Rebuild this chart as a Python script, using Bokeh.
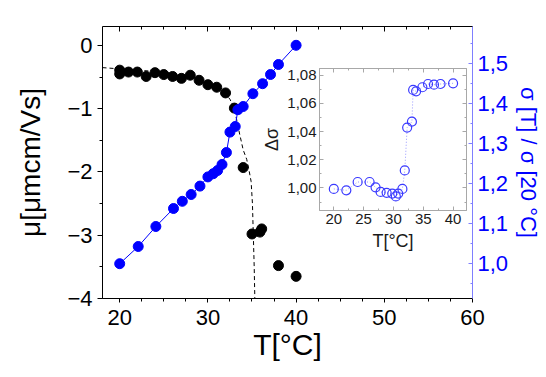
from bokeh.plotting import figure
from bokeh.models import LinearAxis, Range1d, CustomJSTickFormatter
from bokeh.layouts import column
from bokeh.embed import file_html
from bokeh.resources import INLINE

# ---- data ----
mu_T = [20, 20, 21, 22, 23, 24, 25, 26, 27, 28, 29, 30, 31, 32, 33, 34, 35, 35.9, 36.1, 38, 40]
mu_val = [-0.39, -0.45, -0.42, -0.42, -0.49, -0.43, -0.46, -0.49, -0.52, -0.47, -0.55,
          -0.62, -0.66, -0.75, -0.99, -1.93, -2.98, -2.95, -2.90, -3.48, -3.65]

fit_T = [18.05, 20, 22, 24, 26, 28, 30, 31, 32, 32.5, 33, 33.3, 33.6, 34.0, 34.4, 34.7,
         34.9, 35.05, 35.15, 35.25, 35.32]
fit_mu = [-0.35, -0.37, -0.39, -0.41, -0.44, -0.49, -0.58, -0.65, -0.76, -0.85, -1.0,
          -1.2, -1.4, -1.65, -1.8, -2.0, -2.15, -2.5, -3.0, -3.5, -4.0]

sig_T = [20, 22.1, 24.1, 26.1, 27.1, 28.1, 29.1, 30.0, 30.6, 31.1, 31.6, 32.1, 32.5,
         33.1, 33.4, 34.0, 35.1, 36.2, 37.1, 38.0, 40.0]
sig_val = [1.000, 1.043, 1.093, 1.138, 1.156, 1.173, 1.194, 1.217, 1.225, 1.233, 1.248,
           1.278, 1.329, 1.343, 1.385, 1.393, 1.425, 1.450, 1.473, 1.498, 1.546]

dsig_T = [20, 22.1, 24.0, 26.0, 27.0, 27.85, 28.86, 29.8, 30.4, 30.8, 31.5, 31.9, 32.3,
          33.1, 33.3, 33.8, 34.85, 35.8, 36.8, 37.9, 40.0]
dsig_val = [0.9993, 0.9983, 1.0042, 1.0042, 1.0004, 0.9972, 0.9965, 0.9960, 0.9940, 0.9960,
            0.9993, 1.0124, 1.0428, 1.0470, 1.0695, 1.0685, 1.0714, 1.0737, 1.0732, 1.0737, 1.0742]

FONT = "Liberation Sans"
BLUE = "#0000ff"
AXBLUE = "#7f7fff"

# ---- main figure ----
p = figure(width=544, height=371, x_range=Range1d(18.05, 60), y_range=Range1d(-4, 0.3),
           output_backend="svg", toolbar_location=None,
           min_border_left=102, min_border_right=71, min_border_top=26, min_border_bottom=73)
p.grid.visible = False
p.outline_line_color = None
p.extra_y_ranges = {"sig": Range1d(0.913, 1.593)}

xa = p.xaxis[0]
xa.axis_label = "T[°C]"
xa.axis_label_text_font = FONT
xa.axis_label_text_font_size = "30px"
xa.axis_label_text_font_style = "normal"
xa.axis_label_text_color = "black"
xa.axis_label_standoff = 0
xa.major_label_text_font = FONT
xa.major_label_text_font_size = "22px"
xa.major_label_text_color = "black"
xa.major_label_standoff = 7
xa.ticker.num_minor_ticks = 4
xa.ticker.desired_num_ticks = 5
xa.major_tick_in = 0
xa.major_tick_out = 4
xa.minor_tick_in = 0
xa.minor_tick_out = 3
xa.axis_line_color = "black"

ya = p.yaxis[0]
ya.axis_label = "μ[μmcm/Vs]"
ya.axis_label_text_font = FONT
ya.axis_label_text_font_size = "28px"
ya.axis_label_text_font_style = "normal"
ya.axis_label_text_color = "black"
ya.axis_label_standoff = 18
ya.major_label_text_font = FONT
ya.major_label_text_font_size = "22px"
ya.major_label_text_color = "black"
ya.major_label_standoff = 5
ya.ticker.num_minor_ticks = 2
ya.major_tick_in = 0
ya.major_tick_out = 5
ya.minor_tick_in = 0
ya.minor_tick_out = 3

top = LinearAxis(major_label_text_font_size="8px", major_label_text_color=None,
                 major_label_standoff=0,
                 major_tick_in=5, major_tick_out=0, minor_tick_in=3, minor_tick_out=0)
top.ticker.num_minor_ticks = 4
top.ticker.desired_num_ticks = 5
p.add_layout(top, "above")

ra = LinearAxis(y_range_name="sig", axis_label="σ [T] / σ [20 °C]")
ra.formatter = CustomJSTickFormatter(code="return tick.toFixed(1).replace('.', ',');")
ra.axis_label_text_font = FONT
ra.axis_label_text_font_size = "22px"
ra.axis_label_text_font_style = "normal"
ra.axis_label_text_color = BLUE
ra.axis_label_standoff = 5
ra.major_label_text_font = FONT
ra.major_label_text_font_size = "22px"
ra.major_label_text_color = BLUE
ra.major_label_standoff = 5
ra.ticker.num_minor_ticks = 2
ra.major_tick_in = 4
ra.major_tick_out = 0
ra.minor_tick_in = 2
ra.minor_tick_out = 0
ra.axis_line_color = AXBLUE
ra.major_tick_line_color = AXBLUE
ra.minor_tick_line_color = AXBLUE
p.add_layout(ra, "right")

p.line(fit_T, fit_mu, line_color="black", line_dash="4 3", line_width=1)
p.scatter(mu_T, mu_val, size=10, fill_color="black", line_color="black")
p.line(sig_T, sig_val, y_range_name="sig", line_color=BLUE, line_width=1)
p.scatter(sig_T, sig_val, y_range_name="sig", size=10, fill_color=BLUE, line_color=BLUE)

# ---- inset figure ----
GRAY = "#a8a8a8"
q = figure(width=215, height=198, x_range=Range1d(17.6, 42.25), y_range=Range1d(0.984, 1.0847),
           output_backend="svg", toolbar_location=None,
           min_border_left=62, min_border_right=6, min_border_top=6, min_border_bottom=50)
q.grid.visible = False
q.border_fill_alpha = 0
q.background_fill_color = "white"
q.outline_line_color = GRAY

for ax in (q.xaxis[0], q.yaxis[0]):
    ax.major_label_text_font = FONT
    ax.major_label_text_font_size = "15px"
    ax.major_label_text_color = "#1a1a1a"
    ax.major_label_standoff = 3
    ax.axis_label_text_font = FONT
    ax.axis_label_text_font_size = "18px"
    ax.axis_label_text_font_style = "normal"
    ax.axis_label_text_color = "#1a1a1a"
    ax.axis_line_color = GRAY
    ax.major_tick_line_color = GRAY
    ax.minor_tick_line_color = GRAY
    ax.major_tick_in = 4
    ax.major_tick_out = 0
    ax.minor_tick_in = 2
    ax.minor_tick_out = 0
    ax.ticker.num_minor_ticks = 2

qx = q.xaxis[0]
qx.axis_label = "T[°C]"
qx.axis_label_standoff = 4
qx.ticker.desired_num_ticks = 5
qy = q.yaxis[0]
qy.axis_label = "Δσ"
qy.axis_label_standoff = 2
qy.formatter = CustomJSTickFormatter(code="return tick.toFixed(2).replace('.', ',');")

for side in ("above", "right"):
    a = LinearAxis(major_label_text_font_size="1px", major_label_text_color=None,
                   major_label_standoff=0,
                   axis_line_color=GRAY, major_tick_line_color=GRAY, minor_tick_line_color=GRAY,
                   major_tick_in=4, major_tick_out=0, minor_tick_in=2, minor_tick_out=0)
    a.ticker.num_minor_ticks = 2
    q.add_layout(a, side)

q.line(dsig_T, dsig_val, line_color="#9a9aff", line_dash="1 2", line_width=1)
q.scatter(dsig_T, dsig_val, size=9, fill_color=None, line_color="#3a3aff", line_width=1.2)

holder = column(q)
holder.styles = {"position": "absolute", "left": "257px", "top": "62px"}

layout = column(p, holder)
open("out.html", "w").write(file_html(layout, INLINE))
